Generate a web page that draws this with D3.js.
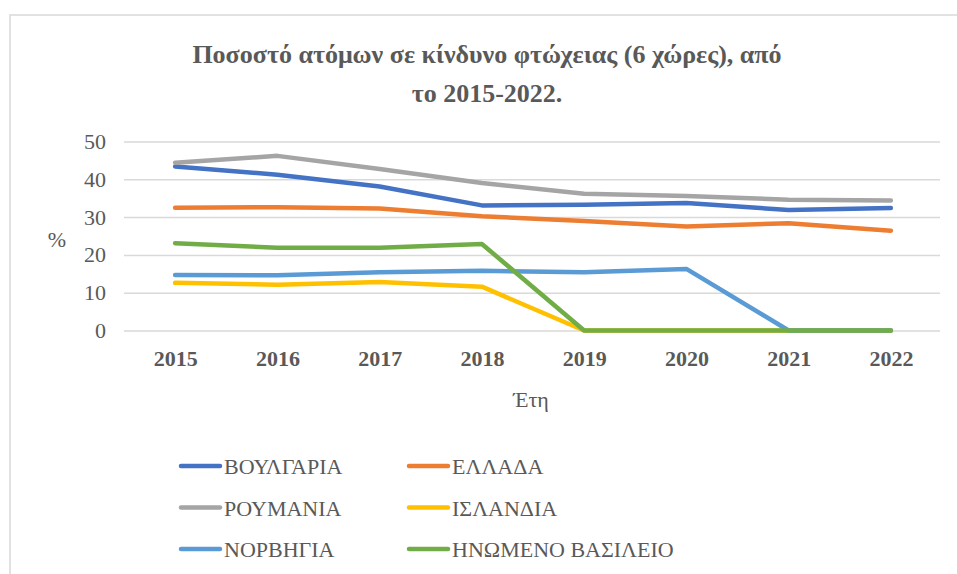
<!DOCTYPE html>
<html>
<head>
<meta charset="utf-8">
<script src="https://cdn.jsdelivr.net/npm/d3@7"></script>
</head>
<body style="margin:0">
<svg width="957" height="574"></svg>
<script>
// Years on the x axis
const years = ["2015", "2016", "2017", "2018", "2019", "2020", "2021", "2022"];
// Percent at risk of poverty, one array per country
const bulgaria = [43.4, 41.2, 38.1, 33.1, 33.3, 33.7, 31.9, 32.4];
const greece   = [32.5, 32.6, 32.3, 30.2, 29.0, 27.5, 28.4, 26.4];
const romania  = [44.4, 46.2, 42.7, 39.0, 36.2, 35.6, 34.6, 34.4];
const iceland  = [12.6, 12.1, 12.8, 11.6, 0, 0, 0, 0];
const norway   = [14.7, 14.6, 15.4, 15.8, 15.4, 16.3, 0, 0];
const uk       = [23.1, 21.9, 21.9, 22.9, 0, 0, 0, 0];
const yTicks = [0, 10, 20, 30, 40, 50];

const series = [
  { name: "ΒΟΥΛΓΑΡΙΑ", values: bulgaria, color: "#4472C4" },
  { name: "ΕΛΛΑΔΑ", values: greece, color: "#ED7D31" },
  { name: "ΡΟΥΜΑΝΙΑ", values: romania, color: "#A5A5A5" },
  { name: "ΙΣΛΑΝΔΙΑ", values: iceland, color: "#FFC000" },
  { name: "ΝΟΡΒΗΓΙΑ", values: norway, color: "#5B9BD5" },
  { name: "ΗΝΩΜΕΝΟ ΒΑΣΙΛΕΙΟ", values: uk, color: "#70AD47" }
];

const svg = d3.select("svg");
const textColor = "#595959";

// plain serif text helper
function label(sel, size) {
  return sel.attr("fill", textColor)
    .style("font-family", "Times New Roman")
    .attr("font-size", size);
}

// chart frame (cut off at right and bottom, like the screenshot)
svg.append("rect")
  .attr("x", 10).attr("y", 15)
  .attr("width", 980).attr("height", 600)
  .attr("fill", "#fff")
  .attr("stroke", "#d9d9d9")
  .attr("stroke-width", 1.5);

// title
const title = label(svg.append("text"), 26)
  .attr("text-anchor", "middle")
  .attr("font-weight", "bold");
title.append("tspan").attr("x", 487).attr("y", 63)
  .text("Ποσοστό ατόμων σε κίνδυνο φτώχειας (6 χώρες), από");
title.append("tspan").attr("x", 487).attr("y", 102)
  .text("το 2015-2022.");

const plot = { left: 124, right: 942, top: 141.5, bottom: 330.5 };

const x = d3.scalePoint()
  .domain(years)
  .range([plot.left, plot.right])
  .padding(0.5);
const y = d3.scaleLinear()
  .domain([0, 50])
  .range([plot.bottom, plot.top]);

// gridlines + y labels
const yAxis = svg.append("g")
  .attr("transform", "translate(" + plot.left + ",0)")
  .call(d3.axisLeft(y).tickValues(yTicks).tickSize(-(plot.right - plot.left - 2)).tickPadding(18));
yAxis.attr("font-family", null).attr("font-size", null);
yAxis.select(".domain").remove();
yAxis.selectAll(".tick line").attr("stroke", "#d9d9d9").attr("stroke-width", 1.5);
label(yAxis.selectAll(".tick text"), 22);

// x labels
const xAxis = svg.append("g")
  .attr("transform", "translate(0," + plot.bottom + ")")
  .call(d3.axisBottom(x).tickSize(0).tickPadding(20));
xAxis.attr("font-family", null).attr("font-size", null);
xAxis.select(".domain").remove();
label(xAxis.selectAll(".tick text"), 22)
  .attr("font-weight", "bold")
  .attr("dy", "0.71em");

// axis titles
label(svg.append("text"), 22)
  .attr("x", 57).attr("y", 247)
  .attr("text-anchor", "middle")
  .text("%");
label(svg.append("text"), 22)
  .attr("x", 531).attr("y", 407)
  .attr("text-anchor", "middle")
  .text("Έτη");

// lines
const line = d3.line()
  .x((d, i) => x(years[i]))
  .y(d => y(d));

svg.append("g").selectAll("path")
  .data(series)
  .enter().append("path")
  .attr("d", d => line(d.values))
  .attr("fill", "none")
  .attr("stroke", d => d.color)
  .attr("stroke-width", 4.5)
  .attr("stroke-linecap", "round")
  .attr("stroke-linejoin", "round");

// legend, two columns
const items = svg.append("g").selectAll("g")
  .data(series)
  .enter().append("g")
  .attr("transform", (d, i) => "translate(" + (i % 2 === 0 ? 181 : 409) + "," + (466 + Math.floor(i / 2) * 41.5) + ")");
items.append("line")
  .attr("x1", 0).attr("x2", 39)
  .attr("stroke", d => d.color)
  .attr("stroke-width", 4.5)
  .attr("stroke-linecap", "round");
label(items.append("text"), 22)
  .attr("x", 43)
  .attr("y", 8)
  .text(d => d.name);
</script>
</body>
</html>
